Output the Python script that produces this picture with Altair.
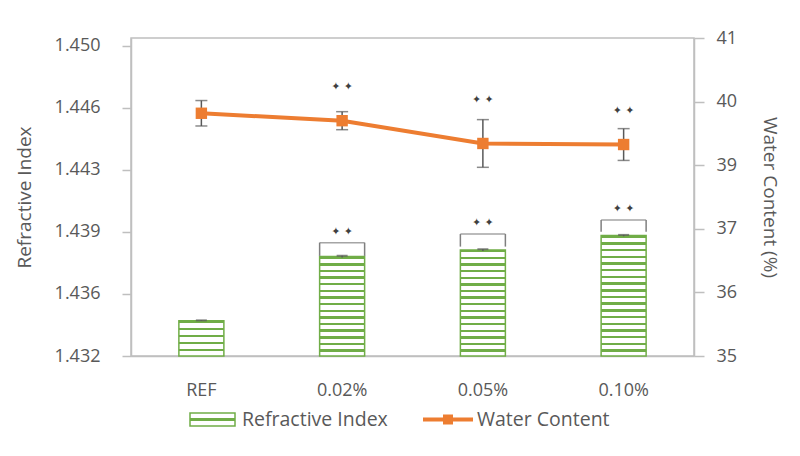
import altair as alt
import pandas as pd

# ---- data ----
categories = ["REF", "0.02%", "0.05%", "0.10%"]
refractive_index = [1.43405, 1.43777, 1.43815, 1.43899]
ri_error = [0.00002, 0.00005, 0.00005, 0.00004]
water_content = [39.58, 39.44, 39.01, 38.99]
wc_error = [0.24, 0.17, 0.45, 0.30]

# significance annotations (categories 2..4)
sig_categories = ["0.02%", "0.05%", "0.10%"]
bracket_top = [1.43858, 1.43908, 1.43990]
bracket_bottom = [1.43781, 1.43835, 1.43922]
star_ri = [1.43922, 1.43971, 1.44054]
star_wc = [40.07, 39.83, 39.63]

ri_ticks = [1.432, 1.4356, 1.4392, 1.4428, 1.4464, 1.450]
wc_ticks = [35, 36.2, 37.4, 38.6, 39.8, 41]
legend_labels = ["Refractive Index", "Water Content"]

# ---- style ----
GREEN = "#70AD47"
ORANGE = "#ED7D31"
GRAY_TXT = "#595959"
AXIS_GRAY = "#BFBFBF"
ERR = "#595959"
FONT = "Open Sans"
W, H = 563, 318
RI_DOMAIN = [1.432, 1.45046]
WC_DOMAIN = [35, 41]

df = pd.DataFrame({
    "cat": categories,
    "ri": refractive_index,
    "ri_lo": [v - e for v, e in zip(refractive_index, ri_error)],
    "ri_hi": [v + e for v, e in zip(refractive_index, ri_error)],
    "wc": water_content,
    "wc_lo": [v - e for v, e in zip(water_content, wc_error)],
    "wc_hi": [v + e for v, e in zip(water_content, wc_error)],
})
sig = pd.DataFrame({
    "cat": sig_categories,
    "btop": bracket_top,
    "bbot": bracket_bottom,
    "sri": star_ri,
    "swc": star_wc,
})

x_axis = alt.Axis(title=None, ticks=False, labelFontSize=18, labelColor=GRAY_TXT,
                  labelPadding=25, domainColor=AXIS_GRAY, domainWidth=1.5, grid=False,
                  labelAngle=0)
X = alt.X("cat:N", sort=categories,
          scale=alt.Scale(domain=categories, paddingInner=0, paddingOuter=0),
          axis=x_axis)

ri_axis = alt.Axis(title="Refractive Index", values=ri_ticks, format=".3f", grid=False,
                   orient="left", tickSize=9, tickColor=AXIS_GRAY, tickWidth=1.5,
                   domainColor=AXIS_GRAY, domainWidth=1.5, labelPadding=22,
                   labelFontSize=18, labelColor=GRAY_TXT, titleFontSize=19,
                   titleColor=GRAY_TXT, titleFontWeight="normal", titlePadding=20)
wc_axis = alt.Axis(title="Water Content (%)", values=wc_ticks, format=".0f", grid=False,
                   orient="right", tickSize=10, tickColor=AXIS_GRAY, tickWidth=1.5,
                   domainColor=AXIS_GRAY, domainWidth=1.5, labelPadding=12,
                   labelFontSize=18, labelColor=GRAY_TXT, titleFontSize=19,
                   titleColor=GRAY_TXT, titleFontWeight="normal", titlePadding=23)
ri_scale = alt.Scale(domain=RI_DOMAIN, zero=False, nice=False)
wc_scale = alt.Scale(domain=WC_DOMAIN, zero=False, nice=False)


def stripes(h_px, period=6.6, green_frac=0.36):
    n = max(1, round(h_px / period))
    stops = []
    for i in range(n):
        a = i / n
        b = (i + green_frac) / n
        c = (i + 1) / n
        stops += [
            {"offset": a, "color": GREEN},
            {"offset": b, "color": GREEN},
            {"offset": b, "color": "#FFFFFF"},
            {"offset": c, "color": "#FFFFFF"},
        ]
    return {"gradient": "linear", "x1": 0, "y1": 0, "x2": 0, "y2": 1, "stops": stops}


base = alt.Chart(df)
sbase = alt.Chart(sig)

# ---- left (refractive index) group ----
left_layers = []
for c, v in zip(categories, refractive_index):
    h = (v - RI_DOMAIN[0]) / (RI_DOMAIN[1] - RI_DOMAIN[0]) * H
    left_layers.append(
        base.transform_filter(alt.datum.cat == c).mark_bar(
            size=45, stroke=GREEN, strokeWidth=1.5
        ).encode(
            x=X,
            y=alt.Y("ri:Q", scale=ri_scale, axis=ri_axis),
            y2=alt.Y2(datum=RI_DOMAIN[0]),
            fill=alt.value(stripes(h)),
        )
    )
left_layers.append(
    base.mark_rule(color=ERR, strokeWidth=1.5).encode(
        x=X, y=alt.Y("ri_lo:Q", scale=ri_scale, axis=ri_axis), y2="ri_hi:Q")
)
left_layers.append(
    base.mark_tick(color=ERR, size=11, thickness=2).encode(
        x=X, y=alt.Y("ri_hi:Q", scale=ri_scale, axis=ri_axis))
)
left_layers.append(
    sbase.mark_tick(color="#7F7F7F", size=45, thickness=1.5).encode(
        x=X, y=alt.Y("btop:Q", scale=ri_scale, axis=ri_axis))
)
for off in (-22.5, 22.5):
    left_layers.append(
        sbase.mark_rule(color="#7F7F7F", strokeWidth=1.5, xOffset=off).encode(
            x=X, y=alt.Y("btop:Q", scale=ri_scale, axis=ri_axis), y2="bbot:Q")
    )
left_layers.append(
    sbase.mark_text(text="✦  ✦", font="DejaVu Sans", fontSize=11, color="#404040",
                    baseline="middle").encode(
        x=X, y=alt.Y("sri:Q", scale=ri_scale, axis=ri_axis))
)
left = alt.layer(*left_layers)

# ---- right (water content) group ----
right = alt.layer(
    base.mark_rule(color=ERR, strokeWidth=1.5).encode(
        x=X, y=alt.Y("wc_lo:Q", scale=wc_scale, axis=wc_axis), y2="wc_hi:Q"),
    base.mark_tick(color=ERR, size=12, thickness=1.5).encode(
        x=X, y=alt.Y("wc_lo:Q", scale=wc_scale, axis=wc_axis)),
    base.mark_tick(color=ERR, size=12, thickness=1.5).encode(
        x=X, y=alt.Y("wc_hi:Q", scale=wc_scale, axis=wc_axis)),
    base.mark_line(color=ORANGE, strokeWidth=4).encode(
        x=X, y=alt.Y("wc:Q", scale=wc_scale, axis=wc_axis)),
    base.mark_square(color=ORANGE, size=130, opacity=1, filled=True).encode(
        x=X, y=alt.Y("wc:Q", scale=wc_scale, axis=wc_axis)),
    sbase.mark_text(text="✦  ✦", font="DejaVu Sans", fontSize=11, color="#404040",
                    baseline="middle").encode(
        x=X, y=alt.Y("swc:Q", scale=wc_scale, axis=wc_axis)),
)

# ---- legend (manual) ----
leg = alt.Chart(pd.DataFrame({"label": legend_labels}))
legend_sym = alt.Chart(pd.DataFrame({"k": [0]}))
legend = alt.layer(
    legend_sym.mark_rect(stroke=GREEN, strokeWidth=1.5).encode(
        x=alt.value(59), x2=alt.value(104), y=alt.value(375), y2=alt.value(388),
        fill=alt.value({"gradient": "linear", "x1": 0, "y1": 0, "x2": 0, "y2": 1,
                        "stops": [
                            {"offset": 0.0, "color": "#FFFFFF"},
                            {"offset": 0.40, "color": "#FFFFFF"},
                            {"offset": 0.40, "color": GREEN},
                            {"offset": 0.60, "color": GREEN},
                            {"offset": 0.60, "color": "#FFFFFF"},
                            {"offset": 1.0, "color": "#FFFFFF"},
                        ]})),
    legend_sym.mark_rule(color=ORANGE, strokeWidth=4).encode(
        x=alt.value(292), x2=alt.value(342), y=alt.value(381.5)),
    legend_sym.mark_square(color=ORANGE, size=100, opacity=1).encode(
        x=alt.value(317), y=alt.value(381.5)),
    leg.transform_filter(alt.datum.label == legend_labels[0]).mark_text(
        align="left", baseline="middle", fontSize=19.5, color=GRAY_TXT).encode(
        text="label:N", x=alt.value(111), y=alt.value(381.5)),
    leg.transform_filter(alt.datum.label == legend_labels[1]).mark_text(
        align="left", baseline="middle", fontSize=19.5, color=GRAY_TXT).encode(
        text="label:N", x=alt.value(346), y=alt.value(381.5)),
)

chart = alt.layer(left, right, legend).resolve_scale(y="independent").properties(
    width=W, height=H,
    autosize=alt.AutoSizeParams(type="none"),
    padding={"left": 123, "top": 30, "right": 98, "bottom": 92},
    background="#FFFFFF",
).configure(font=FONT).configure_view(stroke=AXIS_GRAY, strokeWidth=1.5)

chart.save("out.html", embed_options={"renderer": "svg", "actions": False})
